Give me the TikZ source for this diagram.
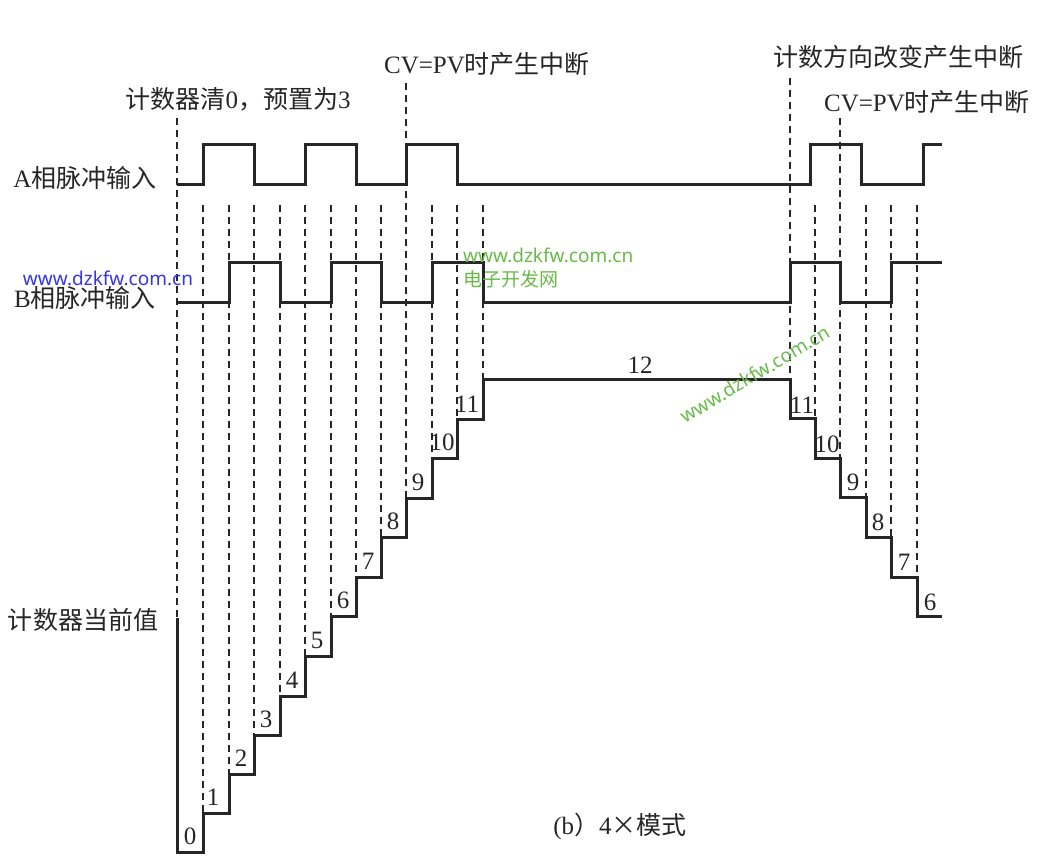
\documentclass[tikz,border=0pt]{standalone}
\usepackage{fontspec}
\setmainfont{Liberation Serif}
\newfontfamily\cjk{Noto Sans CJK SC}
\newfontfamily\wmfont{Noto Sans}
\usepackage{tikz}
\usetikzlibrary{calc}
\definecolor{wmgreen}{RGB}{104,186,72}
\definecolor{wmblue}{RGB}{52,52,235}
\tikzset{
	sig/.style={line width=3pt, line join=miter, color=black!85},
	cutline/.style={line width=1.7pt, dash pattern=on 7pt off 5pt, color=black!85},
	lbl/.style={font=\fontsize{25}{30}\selectfont, inner sep=0pt, text=black!85},
	wm/.style={font=\wmfont\fontsize{19}{23}\selectfont, inner sep=0pt}
}
\def\cutat(#1)(#2:#3){\draw[cutline] (#1, #2) -- (#1, #3);}

\begin{document}
\begin{tikzpicture}[x=1pt, y=-1pt]
			%%%%% START %%%%%
			\useasboundingbox (0, 0) rectangle (1040, 864);
			
			\node[lbl] (labA) at (85, 178) {A{\cjk 相脉冲输入}};
			\node[lbl] (labB) at (85, 298) {B{\cjk 相脉冲输入}};
			\node[lbl] (labCnt) at (83, 620) {\cjk 计数器当前值};
			\node[lbl] (labClr) at (238, 99) {{\cjk 计数器清}0{\cjk ，预置为}3};
			\node[lbl] (labCvpv) at (487, 64) {CV=PV{\cjk 时产生中断}};
			\node[lbl] (labDir) at (898, 57) {\cjk 计数方向改变产生中断};
			\node[lbl] (labCvpvR) at (927, 102) {CV=PV{\cjk 时产生中断}};
			\node[lbl] (caption) at (620, 826) {(b{\cjk ）}4{\cjk ×模式}};
			
			% A phase
			\draw[sig] (177, 184) -- (203, 184) -- (203, 144) -- (254, 144) -- (254, 184)
				-- (305, 184) -- (305, 144) -- (356, 144) -- (356, 184) -- (406, 184)
				-- (406, 144) -- (457, 144) -- (457, 184) -- (810, 184) -- (810, 144)
				-- (861, 144) -- (861, 184) -- (923, 184) -- (923, 144) -- (942, 144);
			
			% B phase
			\draw[sig] (177, 302) -- (229, 302) -- (229, 262) -- (280, 262) -- (280, 302)
				-- (331, 302) -- (331, 262) -- (381, 262) -- (381, 302) -- (432, 302)
				-- (432, 262) -- (483, 262) -- (483, 302) -- (790, 302) -- (790, 262)
				-- (840, 262) -- (840, 302) -- (891, 302) -- (891, 262) -- (942, 262);
			
			% counter value
			\draw[sig] (177, 618) -- (177, 852) -- (203, 852) -- (203, 813) -- (229, 813)
				-- (229, 774) -- (254, 774) -- (254, 735) -- (280, 735) -- (280, 696)
				-- (305, 696) -- (305, 656) -- (331, 656) -- (331, 616) -- (356, 616)
				-- (356, 577) -- (381, 577) -- (381, 537) -- (406, 537) -- (406, 498)
				-- (432, 498) -- (432, 458) -- (457, 458) -- (457, 419) -- (483, 419)
				-- (483, 379) -- (790, 379) -- (790, 418) -- (815, 418) -- (815, 458)
				-- (840, 458) -- (840, 497) -- (866, 497) -- (866, 537) -- (891, 537)
				-- (891, 577) -- (917, 577) -- (917, 616) -- (942, 616);
			
			\cutat(177)(118:618)
			\cutat(203)(205:813)
			\cutat(229)(205:774)
			\cutat(254)(205:735)
			\cutat(280)(205:696)
			\cutat(305)(205:656)
			\cutat(331)(205:616)
			\cutat(356)(205:577)
			\cutat(381)(205:537)
			\cutat(406)(83:498)
			\cutat(432)(205:458)
			\cutat(457)(205:419)
			\cutat(483)(205:379)
			
			\cutat(790)(78:379)
			\cutat(815)(205:418)
			\cutat(840)(118:458)
			\cutat(866)(205:497)
			\cutat(891)(205:537)
			\cutat(917)(205:577)
			
			\node[lbl] (v0) at (190, 836) {0};
			\node[lbl] (v1) at (213, 797) {1};
			\node[lbl] (v2) at (241, 758) {2};
			\node[lbl] (v3) at (266, 719) {3};
			\node[lbl] (v4) at (292, 680) {4};
			\node[lbl] (v5) at (317, 640) {5};
			\node[lbl] (v6) at (343, 600) {6};
			\node[lbl] (v7) at (368, 561) {7};
			\node[lbl] (v8) at (393, 521) {8};
			\node[lbl] (v9) at (418, 482) {9};
			\node[lbl] (v10) at (442, 442) {10};
			\node[lbl] (v11) at (467, 404) {11};
			\node[lbl] (v12) at (640, 365) {12};
			\node[lbl] (w11) at (802, 405) {11};
			\node[lbl] (w10) at (827, 444) {10};
			\node[lbl] (w9) at (853, 482) {9};
			\node[lbl] (w8) at (878, 522) {8};
			\node[lbl] (w7) at (904, 562) {7};
			\node[lbl] (w6) at (930, 602) {6};
			
			% watermarks
			\node[wm, text=wmblue] (wmA) at (108, 278) {www.dzkfw.com.cn};
			\node[wm, text=wmgreen, anchor=west] (wmB) at (463, 255) {www.dzkfw.com.cn};
			\node[wm, text=wmgreen, anchor=west] (wmC) at (463, 279) {\cjk 电子开发网};
			\node[wm, text=wmgreen, rotate=31] (wmD) at (755, 374) {www.dzkfw.com.cn};
			
			%%%%% END %%%%%
\end{tikzpicture}
\end{document}
